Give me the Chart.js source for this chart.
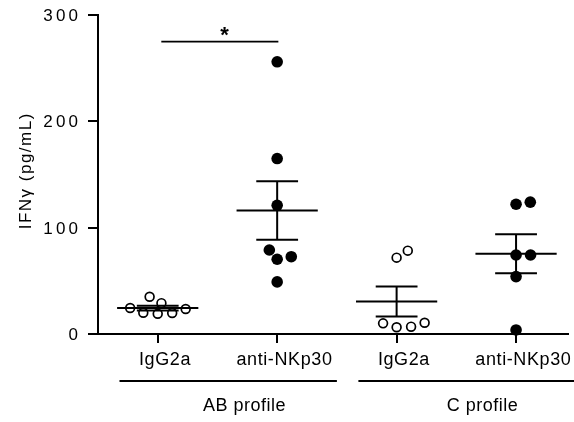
<!DOCTYPE html>
<html>
<head>
<meta charset="utf-8">
<script src="https://cdn.jsdelivr.net/npm/chart.js@4.4.1/dist/chart.umd.min.js"></script>
<style>
    html, body { margin: 0; padding: 0; background: #fff; }
</style>
</head>
<body>
<canvas id="ifnChart" width="574" height="422"></canvas>
<script>
// datos
const categories = ['IgG2a', 'anti-NKp30', 'IgG2a', 'anti-NKp30'];
const groupLabels = ['AB profile', 'C profile'];
const abIgG2a = [24.4, 19.7, 35, 29, 19, 20, 23.5];
const abAntiNKp30 = [256, 165, 121, 72.7, 70.3, 79, 49];
const cIgG2a = [78.4, 71.8, 10, 6.3, 6.9, 10.6];
const cAntiNKp30 = [124, 122, 74.3, 74.3, 54, 3.8];
const yTicks = [0, 100, 200, 300];
const yTitle = 'IFNγ (pg/mL)';

const series = [abIgG2a, abAntiNKp30, cIgG2a, cAntiNKp30];
const filled = [false, true, false, true];
const FONT = '"Liberation Sans", Arial, sans-serif';

function mean(a) { return a.reduce((s, v) => s + v, 0) / a.length; }
function sem(a) {
    const m = mean(a);
    const sd = Math.sqrt(a.reduce((s, v) => s + (v - m) * (v - m), 0) / (a.length - 1));
    return sd / Math.sqrt(a.length);
}

// beeswarm sencillo en pixeles
function swarm(values, yScale) {
    const SX = 14.5, SY = 11;
    const order = values.map((v, i) => i).sort((a, b) => values[a] - values[b]);
    const placed = [];
    const out = new Array(values.length).fill(0);
    order.forEach(idx => {
        const py = yScale.getPixelForValue(values[idx]);
        const cands = [0];
        placed.forEach(p => {
            const t = 1 - Math.pow((py - p.py) / SY, 2);
            if (t > 0) {
                const w = SX * Math.sqrt(t);
                cands.push(p.dx + w, p.dx - w);
            }
        });
        const ok = cands.filter(c => placed.every(p =>
            Math.pow((c - p.dx) / SX, 2) + Math.pow((py - p.py) / SY, 2) >= 0.999));
        ok.sort((a, b) => (Math.abs(a) - Math.abs(b)) || (b - a));
        const dx = ok.length ? ok[0] : 0;
        placed.push({ dx: dx, py: py });
        out[idx] = dx;
    });
    return out;
}

function spacedText(ctx, txt, x, y, spacing, align) {
    ctx.letterSpacing = spacing + 'px';
    const w = ctx.measureText(txt).width - spacing;
    let sx = x;
    if (align === 'center') sx = x - w / 2;
    if (align === 'right') sx = x - w;
    ctx.textAlign = 'left';
    ctx.fillText(txt, sx, y);
    ctx.letterSpacing = '0px';
}

const annotations = {
    id: 'annotations',
    afterDraw(chart) {
        const ctx = chart.ctx;
        const xs = chart.scales.x, ys = chart.scales.y;
        const unit = xs.getPixelForValue(2) - xs.getPixelForValue(1);
        ctx.save();
        ctx.strokeStyle = '#000';
        ctx.fillStyle = '#000';
        ctx.lineWidth = 2;

        // media y SEM
        series.forEach((vals, i) => {
            const cx = xs.getPixelForValue(i + 1);
            const m = mean(vals), e = sem(vals);
            const ym = ys.getPixelForValue(m);
            const yt = ys.getPixelForValue(m + e);
            const yb = ys.getPixelForValue(m - e);
            ctx.beginPath();
            ctx.moveTo(cx - unit * 0.34, ym); ctx.lineTo(cx + unit * 0.34, ym);
            ctx.moveTo(cx - unit * 0.175, yt); ctx.lineTo(cx + unit * 0.175, yt);
            ctx.moveTo(cx - unit * 0.175, yb); ctx.lineTo(cx + unit * 0.175, yb);
            ctx.moveTo(cx, yt); ctx.lineTo(cx, yb);
            ctx.stroke();
        });

        // etiquetas eje y
        ctx.font = '17px ' + FONT;
        ctx.textBaseline = 'alphabetic';
        yTicks.forEach(v => {
            spacedText(ctx, String(v), xs.left - 20, ys.getPixelForValue(v) + 6, 3.2, 'right');
        });

        // titulo eje y
        ctx.save();
        ctx.translate(31, (ys.top + ys.bottom) / 2 - 3);
        ctx.rotate(-Math.PI / 2);
        spacedText(ctx, yTitle, 0, 0, 1.5, 'center');
        ctx.restore();

        // categorias
        ctx.font = '18px ' + FONT;
        categories.forEach((c, i) => {
            spacedText(ctx, c, xs.getPixelForValue(i + 1) + 7, ys.bottom + 31, 0.6, 'center');
        });

        // grupos
        groupLabels.forEach((g, k) => {
            const x0 = xs.getPixelForValue(2 * k + 1) - unit * 0.32;
            const x1 = Math.min(xs.getPixelForValue(2 * k + 2) + unit * 0.5, chart.width);
            ctx.lineWidth = 2;
            ctx.beginPath();
            ctx.moveTo(x0, ys.bottom + 47); ctx.lineTo(x1, ys.bottom + 47);
            ctx.stroke();
            spacedText(ctx, g, (x0 + x1) / 2 + 16, ys.bottom + 77, 0.5, 'center');
        });

        // significancia AB
        const sy = ys.getPixelForValue(275);
        ctx.lineWidth = 1.6;
        ctx.beginPath();
        ctx.moveTo(xs.getPixelForValue(1.03), sy);
        ctx.lineTo(xs.getPixelForValue(2.01), sy);
        ctx.stroke();
        ctx.font = 'bold 22px ' + FONT;
        ctx.textAlign = 'center';
        ctx.fillText('*', xs.getPixelForValue(1.56), sy);
        ctx.restore();
    }
};

const ctx = document.getElementById('ifnChart').getContext('2d');
const chart = new Chart(ctx, {
    type: 'scatter',
    data: {
        datasets: series.map((vals, i) => ({
            data: vals.map(v => ({ x: i + 1, y: v })),
            pointRadius: filled[i] ? 5.8 : 4.4,
            pointHoverRadius: filled[i] ? 5.8 : 4.4,
            pointBorderWidth: filled[i] ? 0 : 1.7,
            pointBackgroundColor: filled[i] ? '#000' : '#fff',
            pointBorderColor: '#000',
            showLine: false,
            clip: false
        }))
    },
    options: {
        responsive: false,
        animation: false,
        events: [],
        layout: { padding: { top: 15, left: 0, right: 0, bottom: 0 } },
        plugins: { legend: { display: false }, tooltip: { enabled: false } },
        scales: {
            x: {
                type: 'linear',
                min: 0.5,
                max: 4.434,
                afterBuildTicks: s => { s.ticks = categories.map((c, i) => ({ value: i + 1 })); },
                afterFit: s => { s.height = 88; },
                ticks: { display: false },
                grid: { drawOnChartArea: false, drawTicks: true, tickLength: 9, color: '#000', lineWidth: 2 },
                border: { color: '#000', width: 2 }
            },
            y: {
                min: 0,
                max: 300,
                afterBuildTicks: s => { s.ticks = yTicks.map(v => ({ value: v })); },
                afterFit: s => { s.width = 98; },
                ticks: { display: false },
                grid: { drawOnChartArea: false, drawTicks: true, tickLength: 10, color: '#000', lineWidth: 2 },
                border: { color: '#000', width: 2 }
            }
        }
    },
    plugins: [annotations]
});

// reparte los puntos (beeswarm) con las escalas ya calculadas
const unitPx = chart.scales.x.getPixelForValue(2) - chart.scales.x.getPixelForValue(1);
chart.data.datasets.forEach((ds, i) => {
    const offs = swarm(series[i], chart.scales.y);
    ds.data = series[i].map((v, j) => ({ x: i + 1 + offs[j] / unitPx, y: v }));
});
chart.update('none');
</script>
</body>
</html>
